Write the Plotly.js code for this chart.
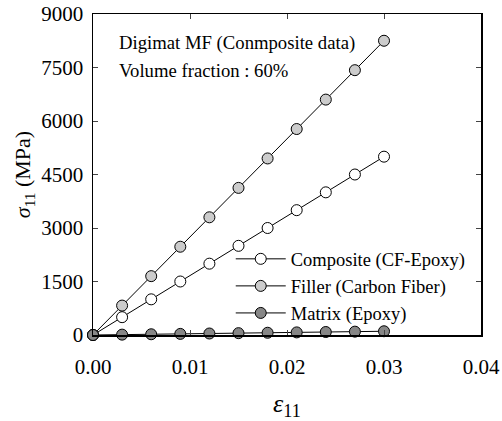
<!DOCTYPE html>
<html><head><meta charset="utf-8">
<script src="https://cdn.plot.ly/plotly-3.0.1.min.js"></script>
<style>body{margin:0;background:#fff}#c{width:502px;height:421px}</style>
</head><body><div id="c"></div>
<script>
var strain = [0, 0.003, 0.006, 0.009, 0.012, 0.015, 0.018, 0.021, 0.024, 0.027, 0.030];
var composite = [0, 500, 1000, 1500, 2000, 2500, 3000, 3500, 4000, 4500, 5000];
var filler = [0, 825, 1650, 2475, 3300, 4125, 4950, 5775, 6600, 7425, 8250];
var matrix = [0, 10, 21, 31, 42, 52, 63, 73, 84, 94, 105];
var seriesNames = ["Composite (CF-Epoxy)", "Filler (Carbon Fiber)", "Matrix (Epoxy)"];
var xTicks = [0, 0.01, 0.02, 0.03, 0.04];
var xTickText = ["0.00", "0.01", "0.02", "0.03", "0.04"];
var yTicks = [0, 1500, 3000, 4500, 6000, 7500, 9000];

var font = "Liberation Serif, Times New Roman, serif";
function tr(y, name, fill) {
  return {x: strain, y: y, name: name, type: "scatter", mode: "lines+markers", cliponaxis: false,
    line: {color: "#000", width: 1},
    marker: {size: 11, color: fill, line: {color: "#000", width: 1}}};
}
var data = [tr(composite, seriesNames[0], "#ffffff"), tr(filler, seriesNames[1], "#cccccc"), tr(matrix, seriesNames[2], "#878787")];
var layout = {
  width: 502, height: 421, margin: {l: 93, r: 21, t: 14, b: 86},
  paper_bgcolor: "#fff", plot_bgcolor: "#fff",
  font: {family: font, size: 21, color: "#000"},
  showlegend: true,
  legend: {x: 0.355, y: 0.295, xanchor: "left", yanchor: "top", bgcolor: "rgba(0,0,0,0)", font: {size: 18.5, family: font}, tracegroupgap: 0, itemwidth: 50},
  xaxis: {range: [0, 0.04], tickvals: xTicks, ticktext: xTickText, ticks: "inside", ticklen: 5, mirror: "ticks",
    showline: true, linecolor: "#000", linewidth: 1.5, showgrid: false, zeroline: false, ticklabelstandoff: 12,
    title: {text: "<i>ε</i><sub>11</sub>", font: {size: 26, family: font}, standoff: 16}},
  yaxis: {range: [0, 9000], tickvals: yTicks, ticks: "inside", ticklen: 5, mirror: "ticks",
    showline: true, linecolor: "#000", linewidth: 1.5, showgrid: false, zeroline: false, ticklabelstandoff: 4,
    title: {text: "<i>σ</i><sub>11</sub> (MPa)", font: {size: 22, family: font}, standoff: 4}},
  annotations: [
    {xref: "paper", yref: "paper", x: 0.062, y: 0.91, xanchor: "left", yanchor: "middle", showarrow: false, text: "Digimat MF (Conmposite data)", font: {size: 18.7, family: font}},
    {xref: "paper", yref: "paper", x: 0.062, y: 0.825, xanchor: "left", yanchor: "middle", showarrow: false, text: "Volume fraction : 60%", font: {size: 18.7, family: font}}
  ]
};
Plotly.newPlot("c", data, layout, {displayModeBar: false, staticPlot: true});
</script></body></html>
